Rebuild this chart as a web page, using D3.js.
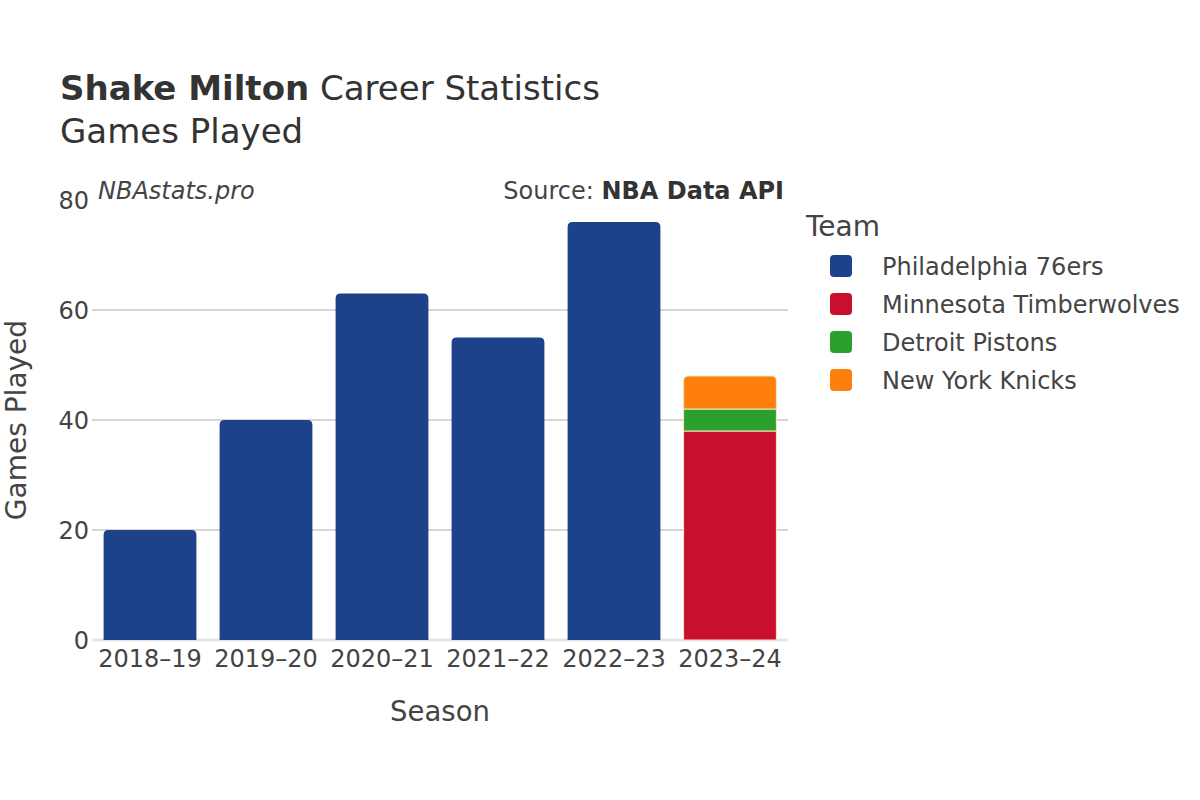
<!DOCTYPE html>
<html>
<head>
<meta charset="utf-8">
<script src="https://cdn.jsdelivr.net/npm/d3@7"></script>
<style>
    body { margin: 0; background: #fff; }
    svg { font-family: "DejaVu Sans", sans-serif; }
</style>
</head>
<body>
<div id="chart"></div>
<script>
// chart data
var seasons = ["2018\u201319", "2019\u201320", "2020\u201321", "2021\u201322", "2022\u201323", "2023\u201324"];
var teams = ["Philadelphia 76ers", "Minnesota Timberwolves", "Detroit Pistons", "New York Knicks"];
var teamColors = ["#1d428a", "#c8102e", "#2ca02c", "#ff7f0e"];
// games per season, one array per team (stacked in this order)
var phi = [20, 40, 63, 55, 76, 0];
var min = [0, 0, 0, 0, 0, 38];
var det = [0, 0, 0, 0, 0, 4];
var nyk = [0, 0, 0, 0, 0, 6];
var yTicks = [0, 20, 40, 60, 80];

var width = 1200, height = 800;
var margin = {top: 200, right: 412, bottom: 160, left: 92};
var textColor = "#444";

var svg = d3.select("#chart").append("svg")
    .attr("width", width)
    .attr("height", height);

var x = d3.scaleBand()
    .domain(seasons)
    .range([margin.left, width - margin.right])
    .paddingInner(0.2)
    .paddingOuter(0.1);

var y = d3.scaleLinear()
    .domain([0, 80])
    .range([height - margin.bottom, margin.top]);

// gridlines
svg.append("g")
    .selectAll("line")
    .data(yTicks.filter(function(d) { return d > 0 && d < 80; }))
    .enter().append("line")
    .attr("x1", margin.left)
    .attr("x2", width - margin.right)
    .attr("y1", function(d) { return y(d); })
    .attr("y2", function(d) { return y(d); })
    .attr("stroke", "#c8c8c8")
    .attr("stroke-width", 1.5);

// zero line
svg.append("line")
    .attr("x1", margin.left)
    .attr("x2", width - margin.right)
    .attr("y1", y(0))
    .attr("y2", y(0))
    .attr("stroke", "#e6e6e6")
    .attr("stroke-width", 3);

// build stacked rows
var series = [phi, min, det, nyk];
var rows = seasons.map(function(s, i) {
    var r = {season: s};
    teams.forEach(function(t, j) { r[t] = series[j][i]; });
    return r;
});
var stacked = d3.stack().keys(teams)(rows);

// top-most segment per season gets rounded top corners
var topKey = {};
rows.forEach(function(r) {
    teams.forEach(function(t) { if (r[t] > 0) topKey[r.season] = t; });
});

function barPath(x0, y0, w, h, rad) {
    // rect with rounded top corners only
    return "M" + x0 + "," + (y0 + h) +
        "V" + (y0 + rad) +
        "Q" + x0 + "," + y0 + " " + (x0 + rad) + "," + y0 +
        "H" + (x0 + w - rad) +
        "Q" + (x0 + w) + "," + y0 + " " + (x0 + w) + "," + (y0 + rad) +
        "V" + (y0 + h) + "Z";
}

stacked.forEach(function(layer, j) {
    svg.append("g")
        .selectAll("path")
        .data(layer.filter(function(d) { return d[1] - d[0] > 0; }))
        .enter().append("path")
        .attr("d", function(d) {
            var x0 = x(d.data.season);
            var y0 = y(d[1]);
            var h = y(d[0]) - y(d[1]);
            var rad = topKey[d.data.season] === layer.key ? 5 : 0;
            return barPath(x0, y0, x.bandwidth(), h, rad);
        })
        .attr("fill", teamColors[j])
        .attr("stroke", j > 0 ? "#f3e9c0" : "none")
        .attr("stroke-width", j > 0 ? 1 : 0);
});

// y axis labels
svg.append("g")
    .selectAll("text")
    .data(yTicks)
    .enter().append("text")
    .attr("x", margin.left - 3)
    .attr("y", function(d) { return y(d) + 8.5; })
    .attr("text-anchor", "end")
    .attr("font-size", 24)
    .attr("fill", textColor)
    .text(function(d) { return d; });

// x axis labels
svg.append("g")
    .selectAll("text")
    .data(seasons)
    .enter().append("text")
    .attr("x", function(d) { return x(d) + x.bandwidth() / 2; })
    .attr("y", 667)
    .attr("text-anchor", "middle")
    .attr("font-size", 24)
    .attr("fill", textColor)
    .text(function(d) { return d; });

// axis titles
svg.append("text")
    .attr("x", (margin.left + width - margin.right) / 2)
    .attr("y", 721)
    .attr("text-anchor", "middle")
    .attr("font-size", 27.5)
    .attr("fill", textColor)
    .text("Season");

svg.append("text")
    .attr("transform", "translate(26," + y(40) + ") rotate(-90)")
    .attr("text-anchor", "middle")
    .attr("font-size", 28)
    .attr("fill", textColor)
    .text("Games Played");

// titles
var title = svg.append("text")
    .attr("x", 60)
    .attr("y", 100)
    .attr("font-size", 34)
    .attr("fill", "#333");
title.append("tspan").attr("font-weight", "bold").text("Shake Milton");
title.append("tspan").text(" Career Statistics");

svg.append("text")
    .attr("x", 60)
    .attr("y", 143)
    .attr("font-size", 34)
    .attr("fill", "#333")
    .text("Games Played");

// watermark + source
svg.append("text")
    .attr("x", 98)
    .attr("y", 199)
    .attr("font-size", 24)
    .attr("font-style", "italic")
    .attr("fill", textColor)
    .text("NBAstats.pro");

var src = svg.append("text")
    .attr("x", 784)
    .attr("y", 199)
    .attr("text-anchor", "end")
    .attr("font-size", 24)
    .attr("fill", textColor);
src.append("tspan").text("Source: ");
src.append("tspan").attr("font-weight", "bold").attr("fill", "#333").text("NBA Data API");

// legend
svg.append("text")
    .attr("x", 806)
    .attr("y", 236)
    .attr("font-size", 28)
    .attr("fill", textColor)
    .text("Team");

var legend = svg.append("g")
    .selectAll("g")
    .data(teams)
    .enter().append("g")
    .attr("transform", function(d, i) { return "translate(0," + (266 + i * 38) + ")"; });

legend.append("rect")
    .attr("x", 830)
    .attr("y", -11)
    .attr("width", 22)
    .attr("height", 22)
    .attr("rx", 4)
    .attr("fill", function(d, i) { return teamColors[i]; });

legend.append("text")
    .attr("x", 882)
    .attr("y", 8.5)
    .attr("font-size", 24)
    .attr("fill", textColor)
    .text(function(d) { return d; });
</script>
</body>
</html>
